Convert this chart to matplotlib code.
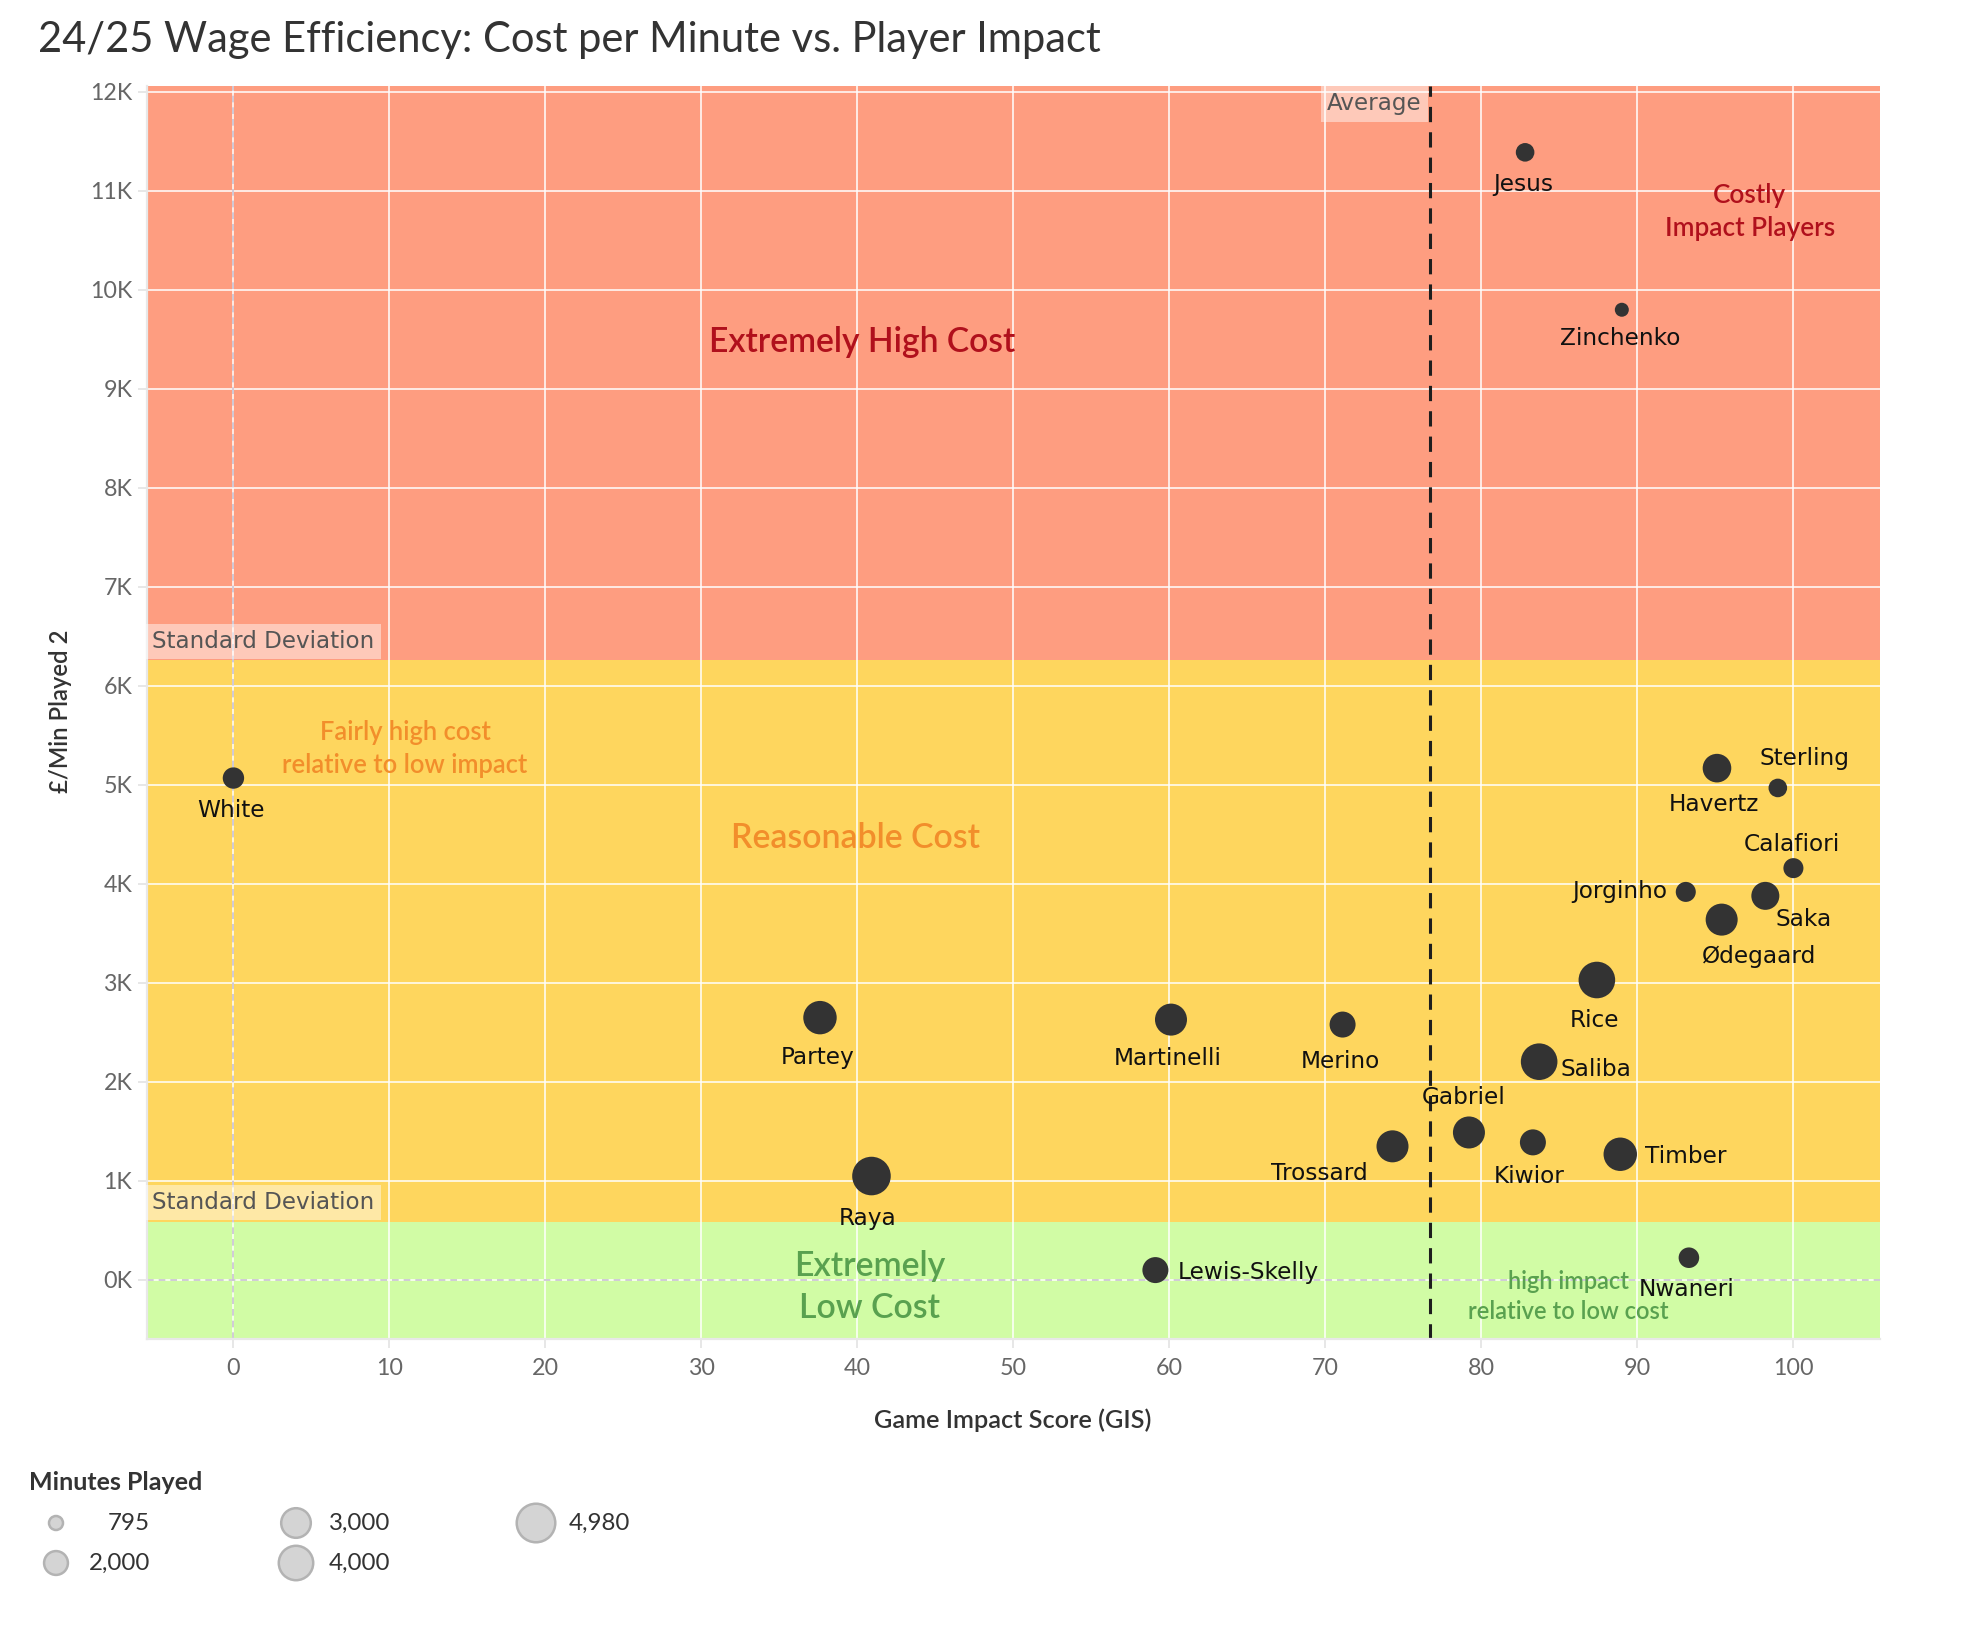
import numpy as np
import matplotlib
matplotlib.use("Agg")
import matplotlib.pyplot as plt
from matplotlib.ticker import FuncFormatter, MultipleLocator

# 24/25 wage efficiency data
players = ["White", "Partey", "Raya", "Lewis-Skelly", "Martinelli", "Merino",
           "Trossard", "Gabriel", "Jesus", "Kiwior", "Saliba", "Rice",
           "Zinchenko", "Timber", "Jorginho", "Nwaneri", "Havertz",
           "Ødegaard", "Saka", "Sterling", "Calafiori"]
gis = [0.0, 37.6, 40.9, 59.1, 60.1, 71.1,
       74.3, 79.2, 82.8, 83.3, 83.7, 87.4,
       89.0, 88.9, 93.1, 93.3, 95.1,
       95.4, 98.2, 99.0, 100.0]
cost_per_min = [5070, 2650, 1050, 100, 2630, 2580,
                1350, 1490, 11390, 1390, 2205, 3030,
                9800, 1270, 3920, 225, 5170,
                3640, 3880, 4970, 4160]
minutes = [1640, 3780, 4980, 2350, 3480, 2350,
           3480, 3480, 1280, 2350, 4500, 4500,
           795, 3780, 1460, 1530, 2810,
           3480, 2700, 1280, 1460]

avg_gis = 76.7
sd_upper = 6260
sd_lower = 583

legend_minutes = [795, 2000, 3000, 4000, 4980]
legend_labels = ["795", "2,000", "3,000", "4,000", "4,980"]

W, H, DPI = 1966, 1630, 200
PT = 72.0 / DPI   # points per pixel

def marker_area(m):
    # tableau-ish size scale: radius^2 grows linearly with minutes
    r = np.sqrt(49 + (np.asarray(m) - 795) * 323.0 / 4185.0)
    return (2 * r * PT) ** 2

# label placement: (dx px, dy px downward, ha)
label_pos = {
    "White": (-2, 32, "center"), "Partey": (-2, 40, "center"),
    "Raya": (-4, 42, "center"), "Lewis-Skelly": (22, 2, "left"),
    "Martinelli": (-3, 39, "center"), "Merino": (-2, 37, "center"),
    "Trossard": (-25, 27, "right"), "Gabriel": (-5, -35, "center"),
    "Jesus": (-2, 32, "center"), "Kiwior": (-4, 34, "center"),
    "Saliba": (21, 8, "left"), "Rice": (-2, 40, "center"),
    "Zinchenko": (-2, 29, "center"), "Timber": (25, 2, "left"),
    "Jorginho": (-19, 0, "right"), "Nwaneri": (-2, 32, "center"),
    "Havertz": (-3, 36, "center"), "Ødegaard": (37, 37, "center"),
    "Saka": (10, 24, "left"), "Sterling": (27, -29, "center"),
    "Calafiori": (-2, -24, "center"),
}

TAB = "Lato"
NAME = "DejaVu Sans"

fig = plt.figure(figsize=(W / DPI, H / DPI), dpi=DPI)
ax = fig.add_axes([146.7 / W, 1 - 1339 / H, (1880 - 146.7) / W, (1339 - 86) / H])

x0, x1 = -5.56, 105.55
y0, y1 = -596, 12060
ax.set_xlim(x0, x1)
ax.set_ylim(y0, y1)

# cost bands (mean +/- standard deviation)
ax.axhspan(sd_upper, y1, color="#fe9d80", zorder=0, lw=0)
ax.axhspan(sd_lower, sd_upper, color="#fed65e", zorder=0, lw=0)
ax.axhspan(y0, sd_lower, color="#d1fca5", zorder=0, lw=0)

ax.xaxis.set_major_locator(MultipleLocator(10))
ax.yaxis.set_major_locator(MultipleLocator(1000))
ax.yaxis.set_major_formatter(FuncFormatter(lambda v, p: "%dK" % round(v / 1000)))
ax.grid(True, color="white", lw=0.55, zorder=1)
ax.set_axisbelow(True)
for s in ["top", "right"]:
    ax.spines[s].set_visible(False)
for s in ["left", "bottom"]:
    ax.spines[s].set_color("#e8e8e8")
    ax.spines[s].set_linewidth(0.8)
ax.tick_params(axis="both", length=3.2, width=0.6, color="#e3e3e3",
               labelcolor="#666666", labelsize=8.4)
ax.tick_params(axis="x", pad=3.5)
ax.tick_params(axis="y", pad=2)
for t in ax.get_xticklabels() + ax.get_yticklabels():
    t.set_fontfamily(TAB)

# zero lines
ax.axvline(0, color="#c9c2d2", lw=0.6, ls=(0, (4, 3)), zorder=1.5)
ax.axhline(0, color="#c9c2d2", lw=0.6, ls=(0, (4, 3)), zorder=1.5)

# average GIS line
ax.axvline(avg_gis, color="#1e1e1e", lw=1.1, ls=(0, (5, 3.3)), zorder=2)

ax.scatter(gis, cost_per_min, s=marker_area(minutes), color="#333333",
           edgecolors="none", zorder=3)

for name, x, y in zip(players, gis, cost_per_min):
    dx, dy, ha = label_pos[name]
    ax.annotate(name, (x, y), xytext=(dx * PT, -dy * PT), textcoords="offset points",
                ha=ha, va="center", fontsize=8.4, family=NAME, color="#111111", zorder=4)

# reference line labels
box = dict(facecolor="white", alpha=0.45, edgecolor="none", pad=2.2)
ax.text(avg_gis - 0.55, 11880, "Average", ha="right", va="center", fontsize=8.3,
        family=NAME, color="#555555", bbox=box, zorder=4)
ax.text(-5.2, 6450, "Standard Deviation", ha="left", va="center", fontsize=8.3,
        family=NAME, color="#555555", bbox=box, zorder=4)
ax.text(-5.2, 780, "Standard Deviation", ha="left", va="center", fontsize=8.3,
        family=NAME, color="#555555", bbox=box, zorder=4)

# band annotations
ax.text(40.3, 9470, "Extremely High Cost", ha="center", va="center", fontsize=12.1,
        family=TAB, fontweight="semibold", color="#b0101c", zorder=4)
ax.text(39.9, 4460, "Reasonable Cost", ha="center", va="center", fontsize=12.2,
        family=TAB, fontweight="semibold", color="#f28e2b", zorder=4)
ax.text(40.8, -70, "Extremely\nLow Cost", ha="center", va="center", fontsize=12.2,
        family=TAB, fontweight="semibold", color="#59a14f", linespacing=1.4, zorder=4)
ax.text(11.0, 5360, "Fairly high cost\nrelative to low impact", ha="center", va="center",
        fontsize=9.2, family=TAB, fontweight="semibold", color="#f28e2b",
        linespacing=1.4, zorder=4)
ax.text(97.2, 10790, "Costly\nImpact Players", ha="center", va="center",
        fontsize=9.4, family=TAB, fontweight="semibold", color="#b0101c",
        linespacing=1.4, zorder=4)
ax.text(85.6, -167, "high impact\nrelative to low cost", ha="center", va="center",
        fontsize=8.5, family=TAB, fontweight="semibold", color="#59a14f",
        linespacing=1.4, zorder=4)

# titles
fig.text(38 / W, 1 - 52 / H, "24/25 Wage Efficiency: Cost per Minute vs. Player Impact",
         ha="left", va="baseline", fontsize=15.0, family=TAB, color="#333333")
fig.text(60 / W, 1 - 711 / H, "£/Min Played 2", rotation=90, ha="center", va="center",
         fontsize=8.6, family=TAB, fontweight="semibold", color="#333333")
fig.text(1013 / W, 1 - 1420 / H, "Game Impact Score (GIS)", ha="center", va="center",
         fontsize=9.1, family=TAB, fontweight="semibold", color="#333333")

# size legend drawn in pixel space
lax = fig.add_axes([0, 0, 1, 1])
lax.set_xlim(0, W)
lax.set_ylim(H, 0)
lax.axis("off")
lax.patch.set_visible(False)
lax.text(29, 1483, "Minutes Played", ha="left", va="center", fontsize=9.0,
         family=TAB, fontweight="bold", color="#333333")
leg_x = [56, 56, 296, 296, 536]
leg_y = [1523, 1563, 1523, 1563, 1523]
lax.scatter(leg_x, leg_y, s=marker_area(legend_minutes), color="#d4d4d4",
            edgecolors="#b3b3b3", linewidths=0.9)
for lx, ly, lab in zip(leg_x, leg_y, legend_labels):
    lax.text(lx + 94, ly, lab, ha="right", va="center", fontsize=8.7,
             family=TAB, color="#333333")

fig.savefig("out.png", dpi=DPI, facecolor="white")
